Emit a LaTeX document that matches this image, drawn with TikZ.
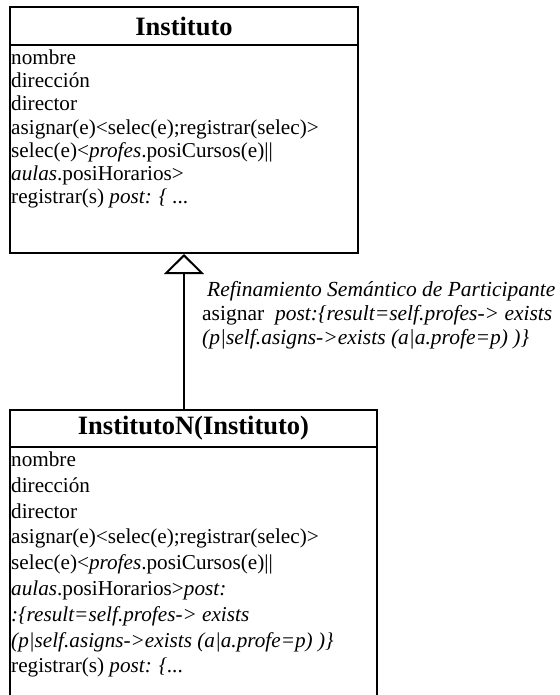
\documentclass[tikz,border=0pt]{standalone}
\usepackage{fontspec}
\setmainfont{Liberation Serif}
\usetikzlibrary{arrows.meta}

\begin{document}
\begin{tikzpicture}[x=1pt, y=-1pt,
  classbox/.style={draw, line width=2pt, rectangle, anchor=north west, inner sep=0pt},
  classtitle/.style={draw, line width=2pt, rectangle, anchor=north, inner sep=0pt, font=\fontsize{26.5}{28}\selectfont\bfseries},
  members/.style={anchor=north west, align=left, inner xsep=2pt, inner ysep=3.5pt, font=\fontsize{21.2}{23.2}\selectfont},
  note/.style={anchor=north west, align=left, inner sep=0pt, font=\fontsize{21.5}{24}\selectfont},
  inherit/.style={-{Triangle[open, length=20pt, width=40pt]}, line width=2pt}
]
  \useasboundingbox (0,0) rectangle (559,695);
  \clip (0,0) rectangle (559,695);

  % Classes
  \node[classbox, minimum width=348pt, minimum height=246pt] (instituto) at (9,6) {};
  \node[classtitle, minimum width=348pt, minimum height=38pt] (institutoT) at (instituto.north) {Instituto};
  \node[members] (institutoM) at (institutoT.south west) {nombre\\
    dirección\\
    director\\
    asignar(e)<selec(e);registrar(selec)>\\
    selec(e)<\textit{profes}.posiCursos(e)||\\
    \textit{aulas}.posiHorarios>\\
    registrar(s) \textit{post: \{ ...}};

  \node[classbox, minimum width=367pt, minimum height=300pt] (institutoN) at (9,409) {};
  \node[classtitle, minimum width=367pt, minimum height=37pt] (institutoNT) at (institutoN.north) {InstitutoN(Instituto)};
  \node[members, font=\fontsize{21.2}{25.8}\selectfont] (institutoNM) at (institutoNT.south west) {nombre\\
    dirección\\
    director\\
    asignar(e)<selec(e);registrar(selec)>\\
    selec(e)<\textit{profes}.posiCursos(e)||\\
    \textit{aulas}.posiHorarios>\textit{post:}\\
    \textit{:\{result=self.profes-> exists}\\
    \textit{(p|self.asigns->exists (a|a.profe=p) )\}}\\
    registrar(s) \textit{post: \{...}};

  % Inheritance
  \draw[inherit] (instituto.south |- institutoN.north) -- (instituto.south);
  \node[note] (refinamiento) at (202,281) {\hspace{5pt}\textit{Refinamiento Semántico de Participante}\\
    asignar\ \ \textit{post:\{result=self.profes-> exists}\\
    \textit{(p|self.asigns->exists (a|a.profe=p) )\}}};
\end{tikzpicture}
\end{document}
